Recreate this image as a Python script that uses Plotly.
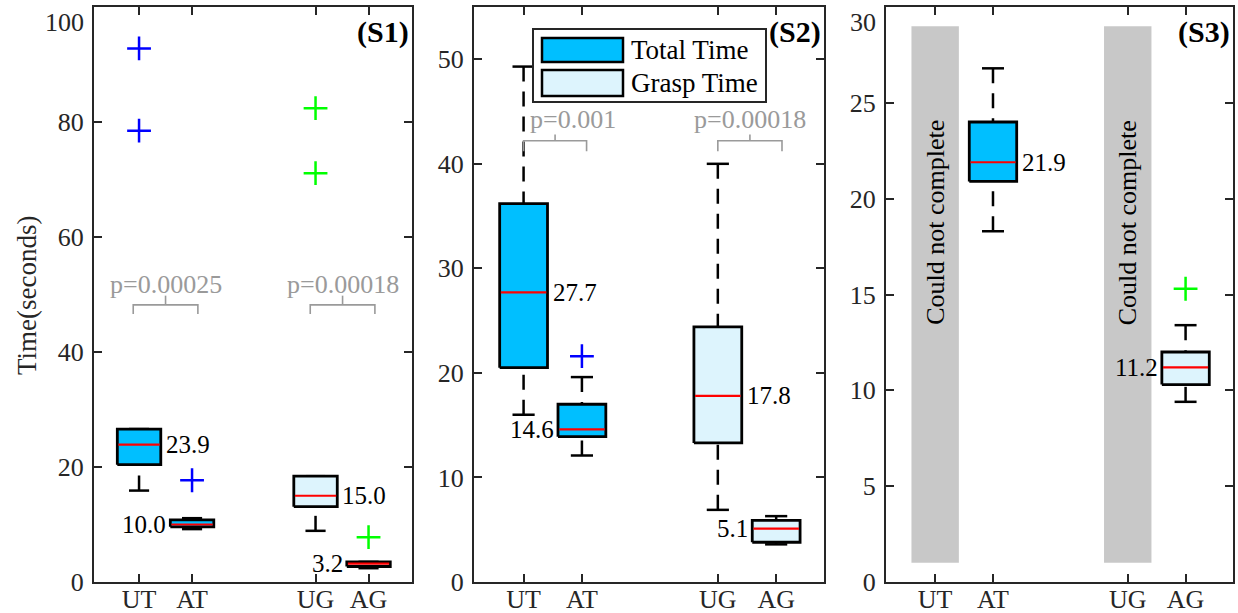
import plotly.graph_objects as go

# ---------------- data ----------------
categories = ["UT", "AT", "UG", "AG"]
series_names = ["Total Time", "Grasp Time"]

# Panel S1
s1_q1 = [20.4, 9.6, 13.1, 2.7]
s1_med = [23.9, 10.0, 15.0, 3.2]
s1_q3 = [26.6, 10.8, 18.4, 3.5]
s1_lo = [15.9, 9.2, 8.9, 2.4]
s1_hi = [26.6, 11.1, 18.4, 3.5]
s1_out = [[92.8, 78.5], [17.7], [82.4, 71.1], [7.8]]
s1_p = ["p=0.00025", "p=0.00018"]
s1_yticks = [0, 20, 40, 60, 80, 100]

# Panel S2
s2_q1 = [20.5, 13.9, 13.3, 3.8]
s2_med = [27.7, 14.6, 17.8, 5.1]
s2_q3 = [36.2, 17.0, 24.4, 5.9]
s2_lo = [16.0, 12.1, 6.9, 3.6]
s2_hi = [49.3, 19.6, 40.0, 6.3]
s2_out = [[], [21.6], [], []]
s2_p = ["p=0.001", "p=0.00018"]
s2_yticks = [0, 10, 20, 30, 40, 50]

# Panel S3 (UT / UG could not complete)
s3_q1 = [None, 20.9, None, 10.3]
s3_med = [None, 21.9, None, 11.2]
s3_q3 = [None, 24.0, None, 12.0]
s3_lo = [None, 18.3, None, 9.4]
s3_hi = [None, 26.8, None, 13.4]
s3_out = [[], [], [], [15.3]]
s3_incomplete_text = "Could not complete"
s3_yticks = [0, 5, 10, 15, 20, 25, 30]

panel_titles = ["(S1)", "(S2)", "(S3)"]
y_title = "Time(seconds)"

# ---------------- style / layout ----------------
W, H = 1238, 613          # reference pixel frame
HF = 628                  # rendered figure height (viewport is taller than the photo)
FONT = "Liberation Serif"
POS = [1, 2, 4.33, 5.33]
XR = [0.15, 6.15]
BW = 0.41      # half box width
CW = 0.19      # half cap width
FILL = ["#00BFFF", "#00BFFF", "#DDF4FD", "#DDF4FD"]
OUTC = ["#0000FF", "#0000FF", "#00FF00", "#00FF00"]
LABEL_SIDES = [["right", "left", "right", "left"],
               ["right", "left", "right", "left"],
               [None, "right", None, "left"]]
GRAY_TXT = "#9A9A9A"
AX_COL = "#262626"

px_domains = [(94, 412), (474, 824), (886, 1233)]
y_dom = [1 - 582 / H, 1 - 7 / H]
yranges = [[0, 100], [0, 55], [0, 30]]
ytickvals = [s1_yticks, s2_yticks, s3_yticks]

fig = go.Figure()
annotations = []
shapes = []


def axname(i, kind):
    return kind if i == 0 else f"{kind}{i + 1}"


def draw_panel(i, q1, med, q3, lo, hi, outs):
    xa, ya = axname(i, "x"), axname(i, "y")
    for k in range(4):
        if med[k] is None:
            continue
        p = POS[k]
        # whiskers (dashed)
        if hi[k] > q3[k]:
            fig.add_trace(go.Scatter(x=[p, p], y=[hi[k], q3[k]], mode="lines",
                                     line=dict(color="black", width=2.5, dash="15px,10px"),
                                     xaxis=xa, yaxis=ya, showlegend=False, hoverinfo="skip"))
        if lo[k] < q1[k]:
            fig.add_trace(go.Scatter(x=[p, p], y=[lo[k], q1[k]], mode="lines",
                                     line=dict(color="black", width=2.5, dash="15px,10px"),
                                     xaxis=xa, yaxis=ya, showlegend=False, hoverinfo="skip"))
        # caps
        for v in (lo[k], hi[k]):
            fig.add_trace(go.Scatter(x=[p - CW, p + CW], y=[v, v], mode="lines",
                                     line=dict(color="black", width=2.5),
                                     xaxis=xa, yaxis=ya, showlegend=False, hoverinfo="skip"))
        # box
        fig.add_trace(go.Scatter(x=[p - BW, p + BW, p + BW, p - BW, p - BW],
                                 y=[q1[k], q1[k], q3[k], q3[k], q1[k]],
                                 mode="lines", fill="toself", fillcolor=FILL[k],
                                 line=dict(color="black", width=2.8),
                                 xaxis=xa, yaxis=ya, showlegend=False, hoverinfo="skip"))
        # median
        fig.add_trace(go.Scatter(x=[p - BW + 0.02, p + BW - 0.02], y=[med[k], med[k]], mode="lines",
                                 line=dict(color="#FF0000", width=2.2),
                                 xaxis=xa, yaxis=ya, showlegend=False, hoverinfo="skip"))
        # outliers
        if outs[k]:
            fig.add_trace(go.Scatter(x=[p] * len(outs[k]), y=outs[k], mode="markers",
                                     marker=dict(symbol="cross-thin", size=17,
                                                 line=dict(color=OUTC[k], width=2.5)),
                                     xaxis=xa, yaxis=ya, showlegend=False, hoverinfo="skip"))
        # median label
        side = LABEL_SIDES[i][k]
        if side == "right":
            annotations.append(dict(x=p + BW, y=med[k], xref=xa, yref=ya, text=f"{med[k]:.1f}",
                                    xanchor="left", yanchor="middle", xshift=3, showarrow=False,
                                    font=dict(family=FONT, size=25, color="black")))
        elif side == "left":
            annotations.append(dict(x=p - BW, y=med[k], xref=xa, yref=ya, text=f"{med[k]:.1f}",
                                    xanchor="right", yanchor="middle", xshift=-2, showarrow=False,
                                    font=dict(family=FONT, size=25, color="black")))


def bracket(i, xl, xr, yh, yend, ytop, text, tx, ty):
    xa, ya = axname(i, "x"), axname(i, "y")
    xm = (xl + xr) / 2
    fig.add_trace(go.Scatter(x=[xl, xl, xr, xr], y=[yend, yh, yh, yend], mode="lines",
                             line=dict(color=GRAY_TXT, width=1.6),
                             xaxis=xa, yaxis=ya, showlegend=False, hoverinfo="skip"))
    fig.add_trace(go.Scatter(x=[xm, xm], y=[yh, ytop], mode="lines",
                             line=dict(color=GRAY_TXT, width=1.6),
                             xaxis=xa, yaxis=ya, showlegend=False, hoverinfo="skip"))
    annotations.append(dict(x=tx, y=ty, xref=xa, yref=ya, text=text, xanchor="left",
                            yanchor="middle", showarrow=False,
                            font=dict(family=FONT, size=26, color=GRAY_TXT)))


# gray "could not complete" bars in S3
for k in (0, 2):
    shapes.append(dict(type="rect", xref="x3", yref="y3", x0=POS[k] - 0.41, x1=POS[k] + 0.41,
                       y0=1, y1=29, fillcolor="#C8C8C8", line=dict(width=0), layer="below"))
    annotations.append(dict(x=POS[k], y=18.75, xref="x3", yref="y3", text=s3_incomplete_text,
                            textangle=-90, showarrow=False, xanchor="center", yanchor="middle",
                            font=dict(family=FONT, size=26, color="black")))

draw_panel(0, s1_q1, s1_med, s1_q3, s1_lo, s1_hi, s1_out)
draw_panel(1, s2_q1, s2_med, s2_q3, s2_lo, s2_hi, s2_out)
draw_panel(2, s3_q1, s3_med, s3_q3, s3_lo, s3_hi, s3_out)

# p-value brackets
bracket(0, POS[0] - 0.11, POS[1] + 0.11, 48.2, 46.6, 49.8, s1_p[0], POS[0] - 0.58, 51.7)
bracket(0, POS[2] - 0.1, POS[3] + 0.12, 48.2, 46.6, 49.8, s1_p[1], POS[2] - 0.57, 51.7)
bracket(1, POS[0], POS[1] + 0.08, 42.2, 41.2, 42.8, s2_p[0], POS[0] + 0.08, 44.2)
bracket(1, POS[2], POS[3] + 0.1, 42.2, 41.2, 42.8, s2_p[1], POS[2] - 0.45, 44.2)

# panel tags
for i, t in enumerate(panel_titles):
    annotations.append(dict(x=px_domains[i][1] / W, y=1 - 7 / H, xref="paper", yref="paper",
                            text=f"<b>{t}</b>", xanchor="right", yanchor="top",
                            xshift=-1, yshift=-6, showarrow=False,
                            font=dict(family=FONT, size=30, color="black")))

# top tick labels sit just below the frame top (as in the reference)
ticktexts = []
for i in range(3):
    tv = ytickvals[i]
    top_label = tv[-1] if tv[-1] == yranges[i][1] else None
    ticktexts.append(["" if (top_label is not None and v == top_label) else str(v) for v in tv])
    if top_label is not None:
        annotations.append(dict(x=px_domains[i][0] / W, y=1 - 7 / H, xref="paper", yref="paper",
                                text=str(top_label), xanchor="right", yanchor="top",
                                xshift=-8, yshift=1, showarrow=False,
                                font=dict(family=FONT, size=26, color=AX_COL)))

# y title
annotations.append(dict(x=27 / W, y=1 - 295 / H, xref="paper", yref="paper",
                        text=y_title, textangle=-90, showarrow=False,
                        xanchor="center", yanchor="middle",
                        font=dict(family=FONT, size=27, color=AX_COL)))

# manual legend (paper coords)
leg_box = (533, 766, 29, 102)
shapes.append(dict(type="rect", xref="paper", yref="paper",
                   x0=leg_box[0] / W, x1=leg_box[1] / W, y0=1 - leg_box[3] / H, y1=1 - leg_box[2] / H,
                   fillcolor="white", line=dict(color=AX_COL, width=2), layer="above"))
leg_rows = [(38, 62), (70, 96)]
for j, (t0, t1) in enumerate(leg_rows):
    shapes.append(dict(type="rect", xref="paper", yref="paper",
                       x0=542 / W, x1=623 / W, y0=1 - t1 / H, y1=1 - t0 / H,
                       fillcolor=FILL[2 * j], line=dict(color="black", width=2.5), layer="above"))
    annotations.append(dict(x=629 / W, y=1 - (t0 + t1) / 2 / H, xref="paper", yref="paper",
                            text=series_names[j], xanchor="left", yanchor="middle",
                            showarrow=False, font=dict(family=FONT, size=27, color="black")))

axis_common = dict(showline=True, linecolor=AX_COL, linewidth=2, mirror="ticks",
                   ticks="inside", ticklen=8, tickwidth=2, tickcolor=AX_COL,
                   showgrid=False, zeroline=False,
                   tickfont=dict(family=FONT, size=26, color=AX_COL))

layout = dict(width=W, height=HF, margin=dict(l=0, r=0, t=0, b=0),
              paper_bgcolor="white", plot_bgcolor="white",
              showlegend=False, annotations=annotations, shapes=shapes)
for i in range(3):
    xd = [px_domains[i][0] / W, px_domains[i][1] / W]
    layout[axname(i, "xaxis")] = dict(domain=xd, range=XR, tickvals=POS, ticktext=categories,
                                      anchor=axname(i, "y"), fixedrange=True,
                                      ticklabelstandoff=-7, **axis_common)
    layout[axname(i, "yaxis")] = dict(domain=y_dom, range=yranges[i], tickvals=ytickvals[i],
                                      ticktext=ticktexts[i],
                                      anchor=axname(i, "x"), fixedrange=True,
                                      ticklabelstandoff=3, **axis_common)

fig.update_layout(**layout)
post = (
    "document.documentElement.style.margin='0';"
    "document.documentElement.style.overflow='hidden';"
    "document.body.style.margin='0';"
    "document.body.style.overflow='hidden';"
    "var d=document.getElementById('{plot_id}');"
    "d.style.position='fixed';d.style.left='0px';d.style.top='0px';"
)
fig.write_html("out.html", config={"displayModeBar": False}, post_script=post)
